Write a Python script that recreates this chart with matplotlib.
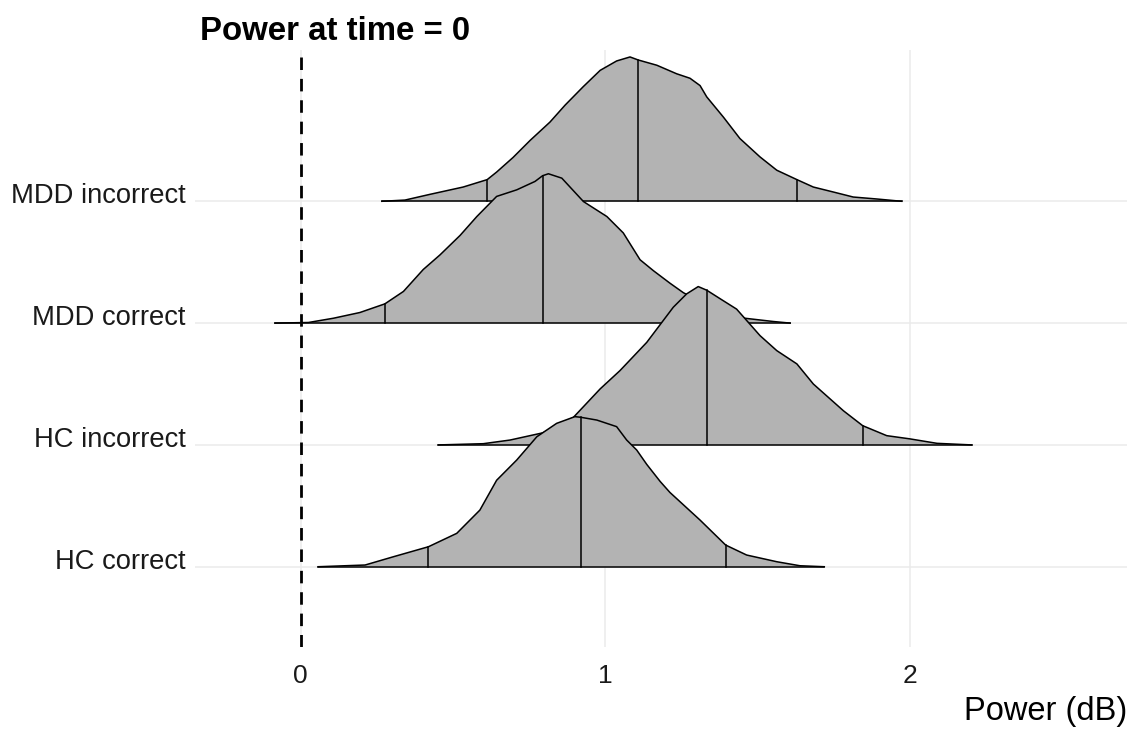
import numpy as np
import matplotlib
matplotlib.use("Agg")
import matplotlib.pyplot as plt
from matplotlib.transforms import ScaledTranslation

plt.rcParams['font.family'] = ['Liberation Sans', 'DejaVu Sans']

categories = ["HC correct", "HC incorrect", "MDD correct", "MDD incorrect"]

# density outlines (x in dB, height in row units)
hc_cor_x = [0.058, 0.212, 0.305, 0.42, 0.513, 0.589, 0.644, 0.71, 0.776, 0.841, 0.901, 0.92,
            0.973, 1.038, 1.071, 1.104, 1.137, 1.181, 1.213, 1.312, 1.396, 1.465, 1.564, 1.64, 1.72]
hc_cor_h = [0.0, 0.014, 0.082, 0.164, 0.274, 0.465, 0.71, 0.876, 1.067, 1.177, 1.232, 1.227,
            1.204, 1.15, 1.04, 0.958, 0.84, 0.70, 0.61, 0.383, 0.178, 0.096, 0.041, 0.008, 0.0]

hc_inc_x = [0.453, 0.60, 0.688, 0.797, 0.896, 0.984, 1.049, 1.137, 1.224, 1.268, 1.306, 1.334,
            1.378, 1.432, 1.509, 1.564, 1.63, 1.684, 1.783, 1.846, 1.925, 2.0, 2.09, 2.204]
hc_inc_h = [0.0, 0.01, 0.04, 0.10, 0.226, 0.46, 0.61, 0.842, 1.13, 1.24, 1.30, 1.27,
            1.20, 1.115, 0.897, 0.774, 0.665, 0.50, 0.28, 0.158, 0.076, 0.05, 0.013, 0.0]

mdd_cor_x = [-0.084, 0.026, 0.108, 0.195, 0.277, 0.338, 0.403, 0.458, 0.524, 0.579, 0.644, 0.71,
             0.77, 0.795, 0.814, 0.858, 0.929, 1.006, 1.06, 1.115, 1.159, 1.213, 1.257, 1.33,
             1.40, 1.459, 1.553, 1.608]
mdd_cor_h = [0.0, 0.005, 0.04, 0.087, 0.158, 0.26, 0.44, 0.56, 0.72, 0.875, 1.04, 1.094,
             1.163, 1.21, 1.226, 1.19, 0.998, 0.875, 0.74, 0.52, 0.43, 0.328, 0.25, 0.15,
             0.08, 0.04, 0.013, 0.0]

mdd_inc_x = [0.267, 0.343, 0.425, 0.534, 0.613, 0.644, 0.698, 0.754, 0.819, 0.869, 0.928, 0.984,
             1.038, 1.082, 1.109, 1.17, 1.235, 1.279, 1.312, 1.334, 1.389, 1.443, 1.509, 1.564,
             1.63, 1.684, 1.75, 1.815, 1.892, 1.974]
mdd_inc_h = [0.0, 0.01, 0.057, 0.117, 0.178, 0.24, 0.36, 0.50, 0.65, 0.79, 0.94, 1.075,
             1.152, 1.185, 1.16, 1.117, 1.047, 1.01, 0.95, 0.857, 0.69, 0.515, 0.364, 0.255,
             0.178, 0.117, 0.076, 0.035, 0.019, 0.0]

# 2.5%, 50%, 97.5% quantiles
hc_cor_q = [0.42, 0.92, 1.396]
hc_inc_q = [0.86, 1.334, 1.846]
mdd_cor_q = [0.277, 0.795, 1.33]
mdd_inc_q = [0.613, 1.107, 1.63]

xs = [hc_cor_x, hc_inc_x, mdd_cor_x, mdd_inc_x]
hs = [hc_cor_h, hc_inc_h, mdd_cor_h, mdd_inc_h]
qs = [hc_cor_q, hc_inc_q, mdd_cor_q, mdd_inc_q]

x_ticks = [0, 1, 2]

W, H = 1129, 729
fig = plt.figure(figsize=(W / 100, H / 100), dpi=100)
ax = fig.add_axes([195 / W, 1 - 647 / H, (1127 - 195) / W, (647 - 50) / H])
ax.set_xlim(-0.3465, 2.714)
ax.set_ylim(0.341, 5.242)

grid_c = '#EBEBEB'
for xt in x_ticks:
    ax.axvline(xt, color=grid_c, lw=1.1, zorder=0)
for i in range(len(categories)):
    ax.axhline(i + 1, color=grid_c, lw=1.1, zorder=0)

ax.axvline(0, color='black', lw=2.0, linestyle=(0, (4.5, 3.2)), zorder=1)

fill_c = '#B3B3B3'
n = len(categories)
for i in range(n - 1, -1, -1):
    r = i + 1
    x = np.array(xs[i])
    h = np.array(hs[i])
    z = 2 + (n - i) * 2
    ax.fill_between(x, r, r + h, facecolor=fill_c, edgecolor='none', zorder=z)
    ax.plot(x, r + h, color='black', lw=1.1, zorder=z + 1, solid_joinstyle='round')
    ax.plot([x[0], x[-1]], [r, r], color='black', lw=1.1, zorder=z + 1)
    for qv in qs[i]:
        ax.plot([qv, qv], [r, r + np.interp(qv, x, h)], color='black', lw=1.1, zorder=z + 1)

for s in ax.spines.values():
    s.set_visible(False)
ax.set_xticks(x_ticks)
ax.set_xticklabels([str(t) for t in x_ticks])
ax.set_yticks(range(1, n + 1))
ax.set_yticklabels(categories)
ax.tick_params(axis='both', length=0, labelsize=19, colors='#1A1A1A')
ax.tick_params(axis='y', pad=6.5, labelsize=19.7)
ax.tick_params(axis='x', pad=12)
offset = ScaledTranslation(0, 8 / 100, fig.dpi_scale_trans)
for lab in ax.get_yticklabels():
    lab.set_transform(lab.get_transform() + offset)

ax.set_xlabel('Power (dB)', fontsize=23.5, color='black', loc='right', labelpad=6)
fig.text(200 / W, 1 - 40 / H, 'Power at time = 0', fontsize=23.8, fontweight='bold',
         ha='left', va='baseline', color='black')

fig.savefig('out.png', dpi=100)
